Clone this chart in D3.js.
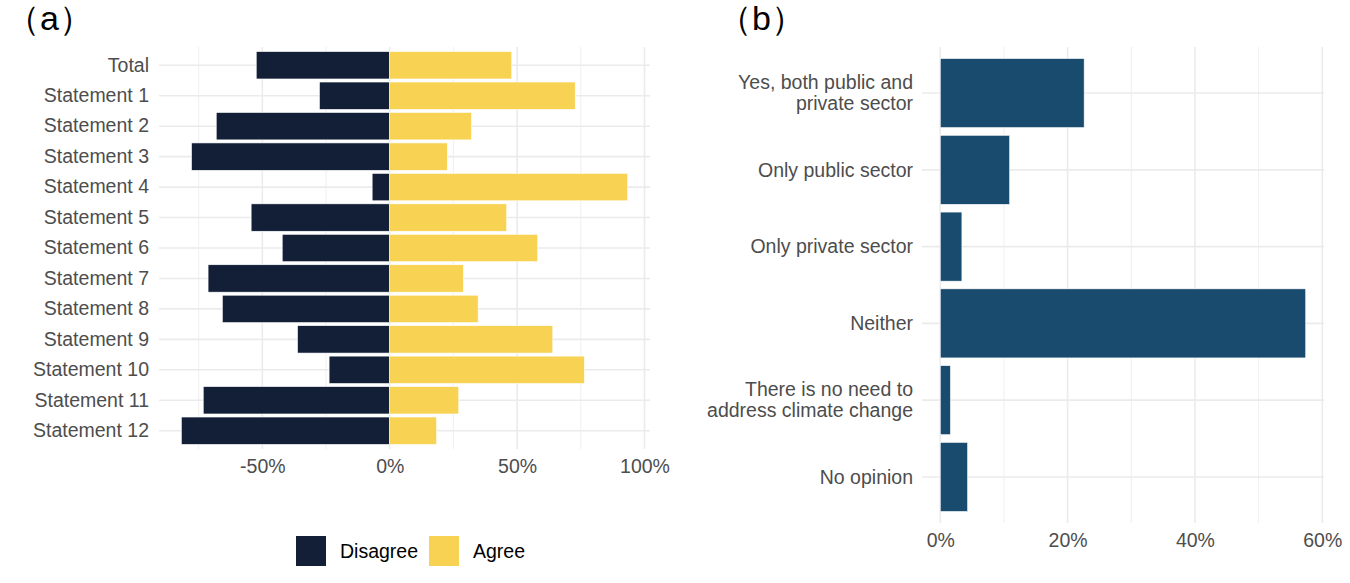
<!DOCTYPE html>
<html>
<head>
<meta charset="utf-8">
<script src="https://cdn.jsdelivr.net/npm/d3@7"></script>
<style>
  body { margin: 0; background: #fff; }
  svg text { font-family: "Liberation Sans", Arial, sans-serif; }
</style>
</head>
<body>
<div id="chart"></div>
<script>
// panel (a) data
var statements = ["Total", "Statement 1", "Statement 2", "Statement 3", "Statement 4", "Statement 5",
  "Statement 6", "Statement 7", "Statement 8", "Statement 9", "Statement 10", "Statement 11", "Statement 12"];
var disagree = [-52.4, -27.6, -68.1, -77.8, -6.9, -54.4, -42.2, -71.3, -65.7, -36.2, -23.8, -73.2, -81.8];
var agree = [47.9, 72.8, 32.1, 22.6, 93.4, 45.9, 58.1, 28.9, 34.7, 64.0, 76.4, 27.1, 18.4];
var ticksA = [-50, 0, 50, 100];
var minorTicksA = [-75, -25, 25, 75];
var legendLabels = ["Disagree", "Agree"];

// panel (b) data
var answers = ["Yes, both public and\nprivate sector", "Only public sector", "Only private sector",
  "Neither", "There is no need to\naddress climate change", "No opinion"];
var shares = [22.6, 10.9, 3.4, 57.4, 1.6, 4.3];
var ticksB = [0, 20, 40, 60];
var minorTicksB = [10, 30, 50];

var titles = ["（a）", "（b）"];

var width = 1350;
var height = 583;
var navy = "#121f37";
var yellow = "#f8d252";
var blue = "#194b6e";
var grid = "#ebebeb";
var axisText = "#4d4d4d";
var fs = 19.5;

var svg = d3.select("#chart")
  .append("svg")
  .attr("width", width)
  .attr("height", height);

function pct(d) { return d + "%"; }

/* --- PANEL A --- */
var lo = d3.min(disagree), hi = d3.max(agree);
var padA = (hi - lo) * 0.05;
var xa = d3.scaleLinear().domain([lo - padA, hi + padA]).range([159, 650]);
var ya = d3.scaleBand().domain(statements).range([47, 449]).paddingInner(0.1).paddingOuter(0.15);

var ga = svg.append("g");

ga.selectAll(".minor").data(minorTicksA).enter().append("line")
  .attr("x1", xa).attr("x2", xa).attr("y1", 47).attr("y2", 449)
  .attr("stroke", grid).attr("stroke-width", 0.8);
ga.selectAll(".major").data(ticksA).enter().append("line")
  .attr("x1", xa).attr("x2", xa).attr("y1", 47).attr("y2", 449)
  .attr("stroke", grid).attr("stroke-width", 1.6);
ga.selectAll(".hgrid").data(statements).enter().append("line")
  .attr("x1", 159).attr("x2", 650)
  .attr("y1", d => ya(d) + ya.bandwidth() / 2).attr("y2", d => ya(d) + ya.bandwidth() / 2)
  .attr("stroke", grid).attr("stroke-width", 1.6);

ga.selectAll(".dis").data(statements).enter().append("rect")
  .attr("x", (d, i) => xa(disagree[i]))
  .attr("width", (d, i) => xa(0) - xa(disagree[i]))
  .attr("y", d => ya(d)).attr("height", ya.bandwidth())
  .attr("fill", navy).attr("stroke", "#fff").attr("stroke-width", 0.6);
ga.selectAll(".agr").data(statements).enter().append("rect")
  .attr("x", xa(0))
  .attr("width", (d, i) => xa(agree[i]) - xa(0))
  .attr("y", d => ya(d)).attr("height", ya.bandwidth())
  .attr("fill", yellow).attr("stroke", "#fff").attr("stroke-width", 0.6);

// axes, ggplot-like (no lines, only labels)
var yAxisA = d3.axisLeft(ya).tickSize(0).tickPadding(10);
ga.append("g").attr("transform", "translate(159,0)").call(yAxisA)
  .call(g => g.select(".domain").remove())
  .selectAll("text").attr("font-size", fs).attr("fill", axisText)
  .attr("font-family", "Liberation Sans, Arial, sans-serif");

var xAxisA = d3.axisBottom(xa).tickValues(ticksA).tickFormat(pct).tickSize(0).tickPadding(10);
ga.append("g").attr("transform", "translate(0,449)").call(xAxisA)
  .call(g => g.select(".domain").remove())
  .selectAll("text").attr("font-size", fs).attr("fill", axisText)
  .attr("font-family", "Liberation Sans, Arial, sans-serif");

// legend
var legendColors = [navy, yellow];
var legendX = [296, 429];
var lg = svg.append("g");
lg.selectAll("rect").data(legendLabels).enter().append("rect")
  .attr("x", (d, i) => legendX[i]).attr("y", 536)
  .attr("width", 30).attr("height", 30)
  .attr("fill", (d, i) => legendColors[i]);
lg.selectAll("text").data(legendLabels).enter().append("text")
  .attr("x", (d, i) => legendX[i] + 44).attr("y", 551)
  .attr("dy", "0.35em").attr("font-size", fs).attr("fill", "#000")
  .text(d => d);

/* --- PANEL B --- */
var maxB = d3.max(shares);
var xb = d3.scaleLinear().domain([-maxB * 0.05, maxB * 1.05]).range([922, 1324]);
var yb = d3.scaleBand().domain(answers).range([47, 523]).paddingInner(0.1).paddingOuter(0.15);

var gb = svg.append("g");
gb.selectAll(".minor").data(minorTicksB).enter().append("line")
  .attr("x1", xb).attr("x2", xb).attr("y1", 47).attr("y2", 523)
  .attr("stroke", grid).attr("stroke-width", 0.8);
gb.selectAll(".major").data(ticksB).enter().append("line")
  .attr("x1", xb).attr("x2", xb).attr("y1", 47).attr("y2", 523)
  .attr("stroke", grid).attr("stroke-width", 1.6);
gb.selectAll(".hgrid").data(answers).enter().append("line")
  .attr("x1", 922).attr("x2", 1324)
  .attr("y1", d => yb(d) + yb.bandwidth() / 2).attr("y2", d => yb(d) + yb.bandwidth() / 2)
  .attr("stroke", grid).attr("stroke-width", 1.6);

gb.selectAll(".bar").data(answers).enter().append("rect")
  .attr("x", xb(0))
  .attr("width", (d, i) => xb(shares[i]) - xb(0))
  .attr("y", d => yb(d)).attr("height", yb.bandwidth())
  .attr("fill", blue).attr("stroke", "#fff").attr("stroke-width", 0.6);

// multi-line category labels
var labB = gb.selectAll(".lab").data(answers).enter().append("text")
  .attr("text-anchor", "end").attr("font-size", fs).attr("fill", axisText)
  .attr("transform", d => "translate(913," + (yb(d) + yb.bandwidth() / 2) + ")");
labB.each(function (d) {
  var lines = d.split("\n");
  var t = d3.select(this);
  lines.forEach(function (l, k) {
    t.append("tspan").attr("x", 0)
      .attr("y", (k - (lines.length - 1) / 2) * 21)
      .attr("dy", "0.35em").text(l);
  });
});

var xAxisB = d3.axisBottom(xb).tickValues(ticksB).tickFormat(pct).tickSize(0).tickPadding(10);
gb.append("g").attr("transform", "translate(0,523)").call(xAxisB)
  .call(g => g.select(".domain").remove())
  .selectAll("text").attr("font-size", fs).attr("fill", axisText)
  .attr("font-family", "Liberation Sans, Arial, sans-serif");

// panel titles
svg.selectAll(".title").data(titles).enter().append("text")
  .attr("x", (d, i) => [6, 718][i]).attr("y", 30)
  .attr("font-size", 34).attr("fill", "#000")
  .text(d => d);
</script>
</body>
</html>
